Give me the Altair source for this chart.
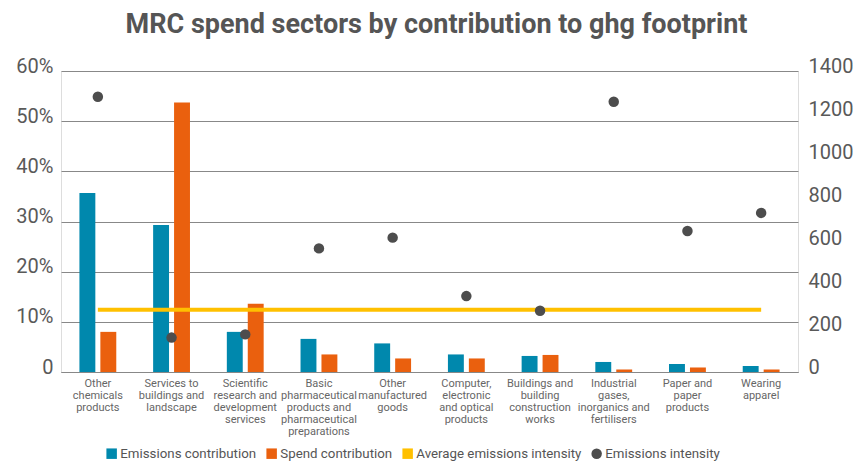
import altair as alt
import pandas as pd

categories = [
    "Other|chemicals|products",
    "Services to|buildings and|landscape",
    "Scientific|research and|development|services",
    "Basic|pharmaceutical|products and|pharmaceutical|preparations",
    "Other|manufactured|goods",
    "Computer,|electronic|and optical|products",
    "Buildings and|building|construction|works",
    "Industrial|gases,|inorganics and|fertilisers",
    "Paper and|paper|products",
    "Wearing|apparel",
]
emissions_contribution = [35.7, 29.3, 8.0, 6.6, 5.7, 3.5, 3.2, 2.0, 1.6, 1.2]
spend_contribution = [8.0, 53.7, 13.6, 3.5, 2.7, 2.7, 3.4, 0.5, 0.9, 0.5]
emissions_intensity = [1280, 160, 175, 575, 625, 353, 285, 1257, 656, 740]
average_intensity = 290

series_names = ["Emissions contribution", "Spend contribution",
                "Average emissions intensity", "Emissions intensity"]
series_colors = ["#0088AD", "#EA600E", "#FFC000", "#4D4D4D"]
series_shapes = ["square", "square", "square", "circle"]

bars_df = pd.DataFrame(
    [{"category": c, "series": series_names[0], "value": v} for c, v in zip(categories, emissions_contribution)]
    + [{"category": c, "series": series_names[1], "value": v} for c, v in zip(categories, spend_contribution)]
)
avg_df = pd.DataFrame({"category": categories, "series": series_names[2],
                       "intensity": [average_intensity] * len(categories)})
pts_df = pd.DataFrame({"category": categories, "series": series_names[3],
                       "intensity": emissions_intensity})

FONT = "Roboto"
legend = alt.Legend(title=None, orient="none", legendX=44, legendY=376, direction="horizontal",
                    labelFontSize=13.3, labelColor="#555555", labelFont=FONT, symbolSize=110,
                    columnPadding=8, labelOffset=2, symbolStrokeWidth=0, labelLimit=400)
color = alt.Color("series:N", scale=alt.Scale(domain=series_names, range=series_colors), legend=legend)
shape = alt.Shape("series:N", scale=alt.Scale(domain=series_names, range=series_shapes), legend=legend)

x = alt.X("category:N", sort=categories,
          scale=alt.Scale(paddingInner=0.5, paddingOuter=0.25),
          axis=alt.Axis(title=None, labelExpr="split(datum.label, '|')", labelAngle=0,
                        labelFontSize=11, labelLineHeight=12, labelColor="#666666", labelFont=FONT,
                        labelPadding=5, labelBaseline="top", ticks=False, domainColor="#888888",
                        labelLimit=200))

bars = alt.Chart(bars_df).mark_bar().encode(
    x=x,
    xOffset=alt.XOffset("series:N", scale=alt.Scale(domain=series_names[:2], paddingInner=0.24)),
    y=alt.Y("value:Q", scale=alt.Scale(domain=[0, 60], nice=False),
            axis=alt.Axis(title=None, values=[0, 10, 20, 30, 40, 50, 60],
                          labelExpr="datum.value == 0 ? '0' : datum.value + '%'",
                          labelFontSize=20, labelColor="#595959", labelFont=FONT, labelPadding=8,
                          labelBaseline="alphabetic", labelOffset=1, domain=False, ticks=False,
                          grid=True, gridColor="#888888", gridWidth=1)),
    color=color,
)

avg_line = alt.Chart(avg_df).mark_line(strokeWidth=4).encode(
    x=x,
    y=alt.Y("intensity:Q", scale=alt.Scale(domain=[0, 1400], nice=False), axis=None),
    color=color,
)

points = alt.Chart(pts_df).mark_point(filled=True, size=110, opacity=1).encode(
    x=x,
    y=alt.Y("intensity:Q", scale=alt.Scale(domain=[0, 1400], nice=False),
            axis=alt.Axis(title=None, orient="right", values=list(range(0, 1401, 200)),
                          labelExpr="'' + datum.value",
                          labelFontSize=20, labelColor="#595959", labelFont=FONT, labelPadding=10,
                          labelBaseline="alphabetic", labelOffset=1, domain=False, ticks=False,
                          grid=False)),
    color=color,
    shape=shape,
)

chart = alt.layer(bars, avg_line, points).resolve_scale(y="independent").properties(
    width=737, height=301,
    autosize=alt.AutoSizeParams(type="none"),
    padding={"left": 61, "top": 71, "right": 69, "bottom": 91},
    title=alt.TitleParams("MRC spend sectors by contribution to ghg footprint", fontSize=27,
                          fontWeight="bold", color="#555555", font=FONT, anchor="middle",
                          offset=17, dx=7),
).configure_view(stroke=None).configure(background="white")

chart.save("out.html", embed_options={"renderer": "svg", "actions": False})
